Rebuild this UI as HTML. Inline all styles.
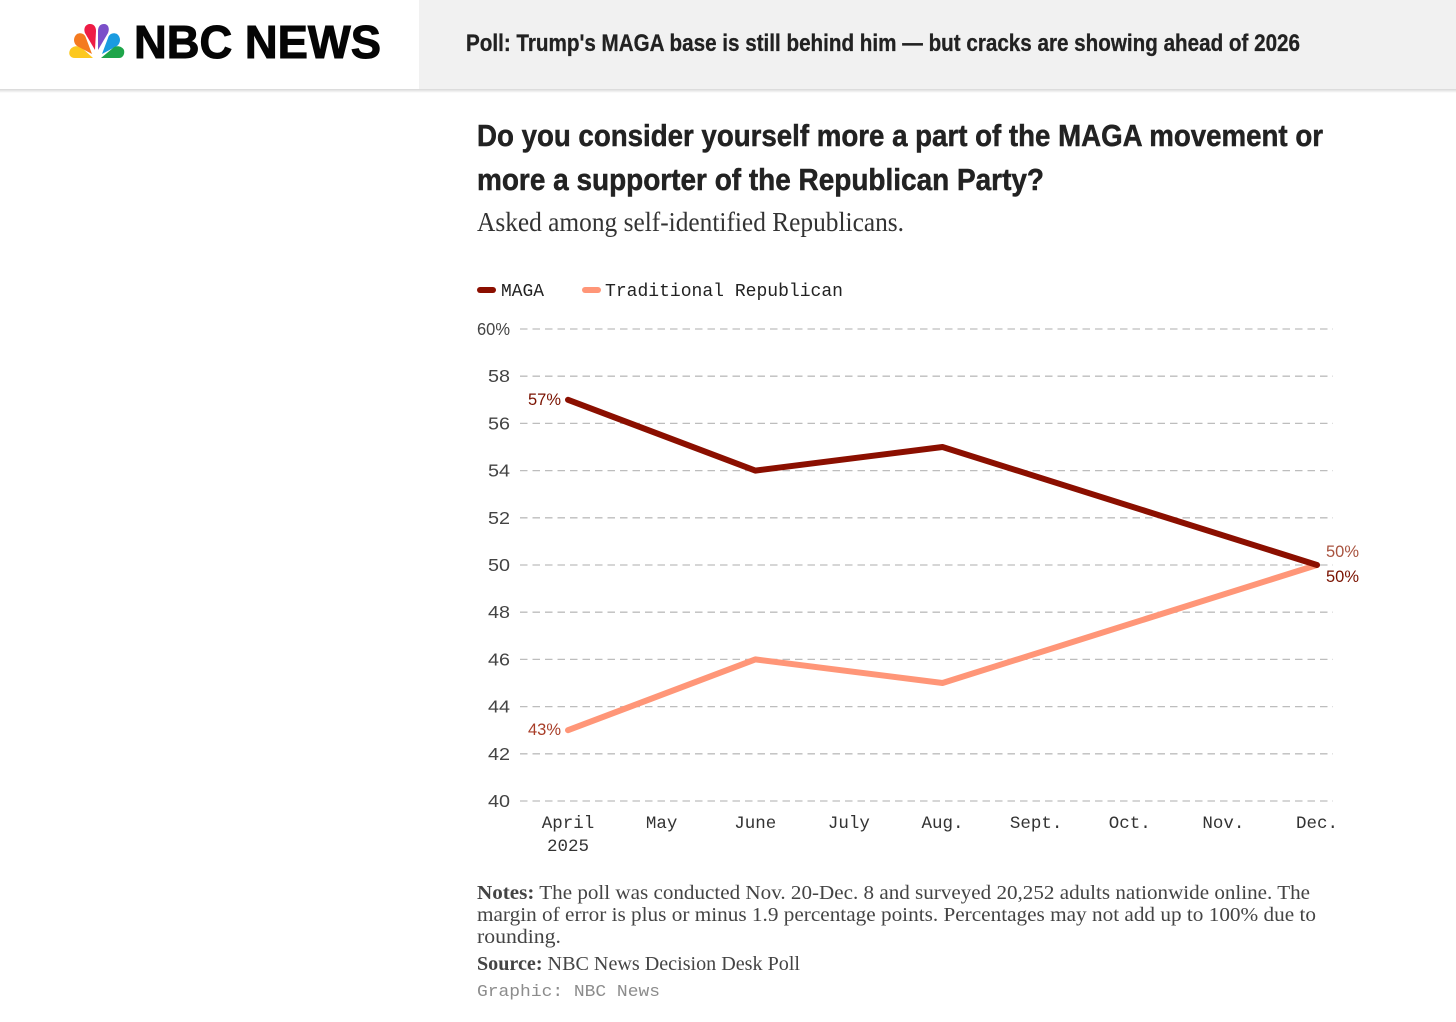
<!DOCTYPE html>
<html lang="en">
<head>
<meta charset="utf-8">
<title>NBC News poll chart</title>
<style>
html,body{margin:0;padding:0;background:#fff;width:1456px;height:1022px;overflow:hidden}
svg{display:block;position:absolute;left:0;top:0}
.sans{font-family:"Liberation Sans",Arial,sans-serif}
.serif{font-family:"Liberation Serif",serif}
.mono{font-family:"Liberation Mono",monospace}
</style>
</head>
<body>
<svg id="root" xmlns="http://www.w3.org/2000/svg" width="1456" height="1022" viewBox="0 0 1456 1022">
  <defs>
    <linearGradient id="sh" x1="0" y1="0" x2="0" y2="1">
      <stop offset="0" stop-color="#000" stop-opacity=".16"/>
      <stop offset="1" stop-color="#000" stop-opacity="0"/>
    </linearGradient>
  </defs>
  <rect x="0" y="0" width="1456" height="1022" fill="#fff"/>
  <g>
    <rect x="419" y="0" width="1037" height="89" fill="#f1f1f1"/>
    <rect x="0" y="89" width="1456" height="4" fill="url(#sh)"/>
    <g>
      <path d="M93 58 H75 C70 58 68 54 70 50 C72 46 78 45 82 48 Z" fill="#fcc81e"/>
      <path d="M92 54 L77 46 C73 43 73 37 77 34 C81 32 85 34 86 38 Z" fill="#f47a20"/>
      <path d="M95 50 L85 33 C83 28 86 24 90 24 C94 24 96 27 96 31 Z" fill="#ee1c45"/>
      <path d="M98 50 L98 31 C98 27 100 24 104 24 C108 24 110 28 108 33 Z" fill="#7b4fc9"/>
      <path d="M102 54 L108 38 C109 34 113 32 117 34 C121 37 121 43 117 46 Z" fill="#1a9be0"/>
      <path d="M101 58 L113 48 C116 45 122 46 124 50 C125 54 123 58 119 58 Z" fill="#1ea54a"/>
    </g>
    <text class="sans" x="134" y="58" font-size="46" font-weight="700" fill="#050505" stroke="#050505" stroke-width="1" textLength="247" lengthAdjust="spacingAndGlyphs">NBC NEWS</text>
    <text class="sans" x="466" y="51" font-size="24" font-weight="700" fill="#222" stroke="#222" stroke-width=".3" textLength="834" lengthAdjust="spacingAndGlyphs">Poll: Trump's MAGA base is still behind him — but cracks are showing ahead of 2026</text>
  </g>
  <text class="sans" x="477" y="146" font-size="31" font-weight="700" fill="#222" stroke="#222" stroke-width=".5" textLength="846" lengthAdjust="spacingAndGlyphs">Do you consider yourself more a part of the MAGA movement or</text>
  <text class="sans" x="477" y="190" font-size="31" font-weight="700" fill="#222" stroke="#222" stroke-width=".5" textLength="567" lengthAdjust="spacingAndGlyphs">more a supporter of the Republican Party?</text>
  <text class="serif" x="477" y="231" font-size="27" fill="#333" textLength="427" lengthAdjust="spacingAndGlyphs">Asked among self-identified Republicans.</text>

  <g>
    <g>
      <line x1="480" y1="290" x2="493" y2="290" stroke="#8b0f00" stroke-width="6" stroke-linecap="round"/>
      <text class="mono" x="501" y="296" font-size="18" fill="#222" textLength="43" lengthAdjust="spacingAndGlyphs">MAGA</text>
    </g>
    <g>
      <line x1="585" y1="290" x2="598" y2="290" stroke="#ff9678" stroke-width="6" stroke-linecap="round"/>
      <text class="mono" x="605" y="296" font-size="18" fill="#222" textLength="238" lengthAdjust="spacingAndGlyphs">Traditional Republican</text>
    </g>
  </g>

  <g id="grid"></g>
  <g id="yticks"></g>
  <g id="xticks"></g>
  <g id="lines"></g>
  <g id="vals"></g>

  <g fill="#444">
    <text class="serif" x="477" y="899" font-size="20" textLength="833" lengthAdjust="spacingAndGlyphs"><tspan font-weight="700">Notes:</tspan> The poll was conducted Nov. 20-Dec. 8 and surveyed 20,252 adults nationwide online. The</text>
    <text class="serif" x="477" y="921" font-size="20" textLength="839" lengthAdjust="spacingAndGlyphs">margin of error is plus or minus 1.9 percentage points. Percentages may not add up to 100% due to</text>
    <text class="serif" x="477" y="943" font-size="20" textLength="84" lengthAdjust="spacingAndGlyphs">rounding.</text>
    <text class="serif" x="477" y="970" font-size="20" textLength="323" lengthAdjust="spacingAndGlyphs"><tspan font-weight="700">Source:</tspan> NBC News Decision Desk Poll</text>
    <text class="mono" x="477" y="996" font-size="17" fill="#8c8c8c" textLength="183" lengthAdjust="spacingAndGlyphs">Graphic: NBC News</text>
  </g>
</svg>
<script>
const categories = ["April", "May", "June", "July", "Aug.", "Sept.", "Oct.", "Nov.", "Dec."];
const yTicks = [40, 42, 44, 46, 48, 50, 52, 54, 56, 58, 60];
const pollMonths = ["April", "June", "Aug.", "Dec."];
const magaValues = [57, 54, 55, 50];
const traditionalValues = [43, 46, 45, 50];

const NS = "http://www.w3.org/2000/svg";
const plot = {xStart: 568, xEnd: 1317, yBottom: 801, yTop: 329, gridLeft: 520, gridRight: 1333};
const minY = yTicks[0];
const maxY = yTicks[yTicks.length - 1];
function xScale(cat) {
  return plot.xStart + categories.indexOf(cat) * (plot.xEnd - plot.xStart) / (categories.length - 1);
}
function yScale(v) {
  return plot.yBottom - (v - minY) * (plot.yBottom - plot.yTop) / (maxY - minY);
}
function makeText(parent, str, x, y, anchor, size, fill, cls, spread) {
  const t = document.createElementNS(NS, "text");
  t.setAttribute("x", x);
  t.setAttribute("y", y);
  t.setAttribute("text-anchor", anchor);
  t.setAttribute("font-size", size);
  t.setAttribute("fill", fill);
  t.setAttribute("class", cls);
  if (spread) {
    t.setAttribute("textLength", spread);
    t.setAttribute("lengthAdjust", "spacingAndGlyphs");
  }
  t.textContent = str;
  parent.appendChild(t);
  return t;
}

const grid = document.getElementById("grid");
const yticksG = document.getElementById("yticks");
yTicks.forEach(function (v) {
  const l = document.createElementNS(NS, "line");
  l.setAttribute("x1", plot.gridLeft);
  l.setAttribute("x2", plot.gridRight);
  l.setAttribute("y1", yScale(v));
  l.setAttribute("y2", yScale(v));
  l.setAttribute("stroke", "#bdbdbd");
  l.setAttribute("stroke-width", "1.3");
  l.setAttribute("stroke-dasharray", "7.5 5");
  
  
  grid.appendChild(l);
  const isTop = v === maxY;
  const t = makeText(yticksG, isTop ? v + "%" : String(v), 510, yScale(v) + 6, "end", 17.5, "#444", "sans", isTop ? 33 : 22);
  
  
});

const xticksG = document.getElementById("xticks");
categories.forEach(function (c) {
  const t = makeText(xticksG, c, xScale(c), 828, "middle", 17.5, "#333", "mono");
  
  
});
const yearLabel = makeText(xticksG, "2025", xScale("April"), 851, "middle", 17.5, "#333", "mono");



function pointsFor(vals) {
  return vals.map(function (v, i) {
    return xScale(pollMonths[i]) + "," + yScale(v);
  }).join(" ");
}
const linesG = document.getElementById("lines");
const tradLine = document.createElementNS(NS, "polyline");
tradLine.setAttribute("points", pointsFor(traditionalValues));
tradLine.setAttribute("fill", "none");
tradLine.setAttribute("stroke", "#ff9678");
tradLine.setAttribute("stroke-width", "6");
tradLine.setAttribute("stroke-linecap", "round");
tradLine.setAttribute("stroke-linejoin", "round");


linesG.appendChild(tradLine);
const magaLine = document.createElementNS(NS, "polyline");
magaLine.setAttribute("points", pointsFor(magaValues));
magaLine.setAttribute("fill", "none");
magaLine.setAttribute("stroke", "#8b0f00");
magaLine.setAttribute("stroke-width", "6");
magaLine.setAttribute("stroke-linecap", "round");
magaLine.setAttribute("stroke-linejoin", "round");


linesG.appendChild(magaLine);

const valsG = document.getElementById("vals");
const lastIdx = pollMonths.length - 1;
const magaFirst = makeText(valsG, magaValues[0] + "%", 561, yScale(magaValues[0]) + 5, "end", 17, "#7a1200", "sans", 33);


const tradFirst = makeText(valsG, traditionalValues[0] + "%", 561, yScale(traditionalValues[0]) + 5, "end", 17, "#a83d28", "sans", 33);


const tradLast = makeText(valsG, traditionalValues[lastIdx] + "%", xScale(pollMonths[lastIdx]) + 9, yScale(traditionalValues[lastIdx]) - 8, "start", 17, "#a8533f", "sans", 33);


const magaLast = makeText(valsG, magaValues[lastIdx] + "%", xScale(pollMonths[lastIdx]) + 9, yScale(magaValues[lastIdx]) + 17, "start", 17, "#7a1200", "sans", 33);


</script>
</body>
</html>
